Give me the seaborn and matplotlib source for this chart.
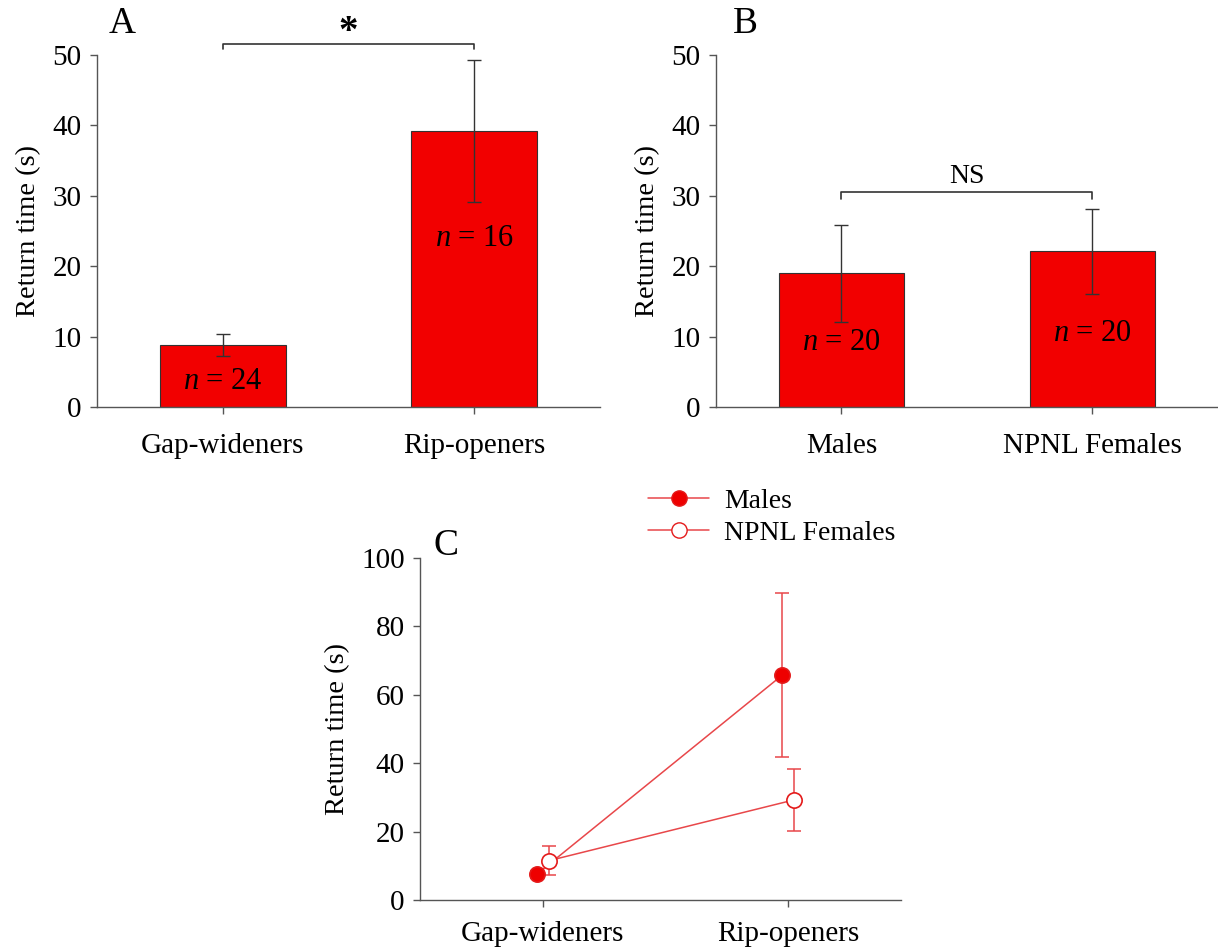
import numpy as np
import pandas as pd
import matplotlib
matplotlib.use("Agg")
import matplotlib.pyplot as plt
import seaborn as sns
from matplotlib.lines import Line2D

# Data

groups_a = ["Gap-wideners", "Rip-openers"]
means_a = [8.8, 39.2]
sem_a = [1.6, 10.1]
n_a = [24, 16]

groups_b = ["Males", "NPNL Females"]
means_b = [19.0, 22.1]
sem_b = [6.9, 6.0]
n_b = [20, 20]

groups_c = ["Gap-wideners", "Rip-openers"]
males_c = [7.5, 65.7]
males_c_err = [1.0, 24.0]
females_c = [11.5, 29.3]
females_c_err = [4.3, 9.1]

sns.set_theme(style="ticks")
plt.rcParams["font.family"] = ["Liberation Serif", "DejaVu Serif"]
plt.rcParams["mathtext.fontset"] = "custom"
plt.rcParams["mathtext.it"] = "Liberation Serif:italic"
plt.rcParams["mathtext.rm"] = "Liberation Serif"
plt.rcParams["text.color"] = "black"
plt.rcParams["axes.labelcolor"] = "black"

BAR_RED = "#f20000"
LINE_RED = "#e8474a"
AXIS_GREY = "#555555"

fig = plt.figure(figsize=(12.18, 9.49), dpi=100)
ax_a = fig.add_axes([0.0796, 0.5711, 0.413, 0.3709])
ax_b = fig.add_axes([0.5878, 0.5711, 0.412, 0.3709])
ax_c = fig.add_axes([0.3448, 0.0516, 0.395, 0.3604])


def style_axis(ax, ymax, step, xpad=14):
    sns.despine(ax=ax)
    for side in ["left", "bottom"]:
        ax.spines[side].set_color(AXIS_GREY)
        ax.spines[side].set_linewidth(1.0)
    ax.set_ylim(0, ymax)
    ax.set_yticks(np.arange(0, ymax + 1, step))
    ax.tick_params(axis="both", direction="out", length=5, width=1.0,
                   color=AXIS_GREY, labelsize=21, labelcolor="black")
    ax.tick_params(axis="x", pad=xpad)
    ax.tick_params(axis="y", pad=6)
    ax.set_xlabel("")
    ax.set_ylabel("Return time (s)", fontsize=20.5, labelpad=8)


def bar_panel(ax, groups, means, sem, ns, label_y):
    df = pd.DataFrame({"group": groups, "mean": means})
    sns.barplot(data=df, x="group", y="mean", ax=ax, color=BAR_RED,
                saturation=1, width=0.5, edgecolor="#333333", linewidth=0.8,
                errorbar=None)
    ax.errorbar(range(len(groups)), means, yerr=sem, fmt="none",
                ecolor="#333333", elinewidth=1.0, capsize=5, capthick=1.0)
    for i, (n, y) in enumerate(zip(ns, label_y)):
        ax.text(i, y, rf"$n$ = {n}", ha="center", va="center", fontsize=22)
    ax.set_xlim(-0.5, 1.5)
    style_axis(ax, 50, 10)


# Panel A
bar_panel(ax_a, groups_a, means_a, sem_a, n_a, [3.6, 24.0])
ax_a.plot([0, 0, 1, 1], [50.9, 51.6, 51.6, 50.9], color="#333333", lw=1.2,
          clip_on=False)
ax_a.text(0.5, 50.6, "*", ha="center", va="bottom", fontsize=28,
          fontweight="bold")
fig.text(0.1, 0.975, "A", fontsize=27, ha="center", va="center")

# Panel B
bar_panel(ax_b, groups_b, means_b, sem_b, n_b, [9.1, 10.5])
ax_b.plot([0, 0, 1, 1], [29.6, 30.5, 30.5, 29.6], color="#333333", lw=1.2)
ax_b.text(0.5, 31.0, "NS", ha="center", va="bottom", fontsize=20)
fig.text(0.612, 0.975, "B", fontsize=27, ha="center", va="center")

# Panel C
xpos = np.arange(len(groups_c))
series = [
    ("Males", males_c, males_c_err, -0.025, "#ee0000"),
    ("NPNL Females", females_c, females_c_err, 0.025, "white"),
]
for name, vals, errs, off, face in series:
    df = pd.DataFrame({"x": xpos + off, "y": vals})
    sns.lineplot(data=df, x="x", y="y", ax=ax_c, color=LINE_RED, lw=1.1,
                 marker="o", markersize=11, markerfacecolor=face,
                 markeredgecolor="#e41a1a", markeredgewidth=1.2, zorder=3)
    ax_c.errorbar(xpos + off, vals, yerr=errs, fmt="none", ecolor=LINE_RED,
                  elinewidth=1.1, capsize=5, capthick=1.1, zorder=2)
ax_c.set_xlim(-0.5, 1.46)
ax_c.set_xticks(xpos)
ax_c.set_xticklabels(groups_c)
style_axis(ax_c, 100, 20, xpad=10)
fig.text(0.366, 0.425, "C", fontsize=27, ha="center", va="center")

handles = [
    Line2D([], [], color=LINE_RED, lw=1.1, marker="o", markersize=11,
           markerfacecolor="#ee0000", markeredgecolor="#e41a1a"),
    Line2D([], [], color=LINE_RED, lw=1.1, marker="o", markersize=11,
           markerfacecolor="white", markeredgecolor="#e41a1a"),
]
fig.legend(handles, ["Males", "NPNL Females"], loc="center left",
           bbox_to_anchor=(0.5115, 0.455), frameon=False, fontsize=20,
           handlelength=2.2, handletextpad=0.55, labelspacing=0.25)

plt.savefig("out.png", dpi=100)
plt.close()
